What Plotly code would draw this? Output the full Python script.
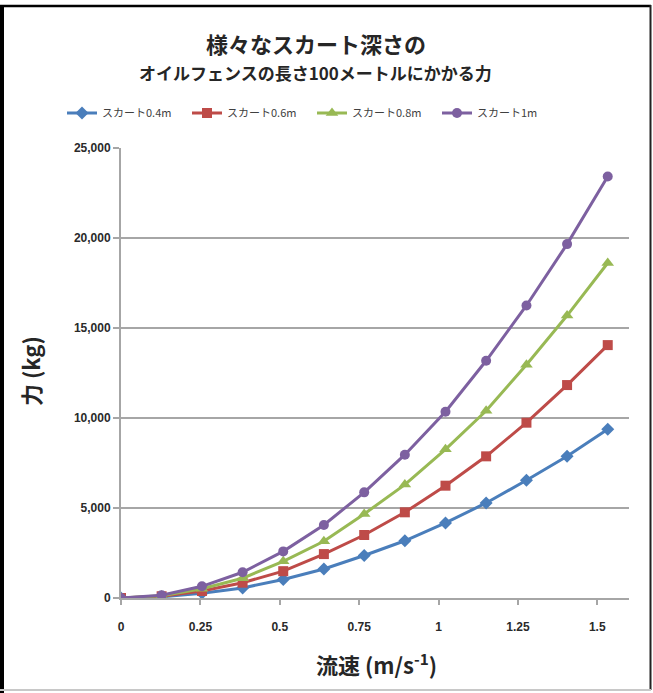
import plotly.graph_objects as go

# Data
speed = [0, 0.128, 0.255, 0.383, 0.511, 0.639, 0.766, 0.894, 1.022, 1.150, 1.277, 1.405, 1.533]
series_names = ["スカート0.4m", "スカート0.6m", "スカート0.8m", "スカート1m"]
skirt_04 = [0, 65, 270, 560, 1030, 1610, 2360, 3180, 4170, 5280, 6540, 7870, 9370]
skirt_06 = [0, 97, 390, 850, 1490, 2440, 3500, 4760, 6240, 7870, 9740, 11830, 14050]
skirt_08 = [0, 129, 517, 1100, 2040, 3150, 4670, 6300, 8260, 10400, 12960, 15690, 18610]
skirt_1m = [0, 150, 650, 1430, 2590, 4060, 5870, 7960, 10350, 13180, 16250, 19660, 23420]
y_ticks = [0, 5000, 10000, 15000, 20000, 25000]
y_ticklabels = ["0", "5,000", "10,000", "15,000", "20,000", "25,000"]
x_ticks = [0, 0.25, 0.5, 0.75, 1, 1.25, 1.5]
x_ticklabels = ["0", "0.25", "0.5", "0.75", "1", "1.25", "1.5"]

colors = ["#4a7ebb", "#be4b48", "#98b954", "#7d60a0"]
symbols = ["diamond", "square", "triangle-up", "circle"]
msizes = [10, 10, 11, 10]

W, H = 653, 693
L, R, T, B = 121, 24, 148, 95
PW, PH = W - L - R, H - T - B

def px(x):
    return (x - L) / PW

def py(y):
    return (H - B - y) / PH

fig = go.Figure()
for name, vals, c, s, ms in zip(series_names, [skirt_04, skirt_06, skirt_08, skirt_1m], colors, symbols, msizes):
    fig.add_trace(go.Scatter(
        x=speed, y=vals, name=name, mode="lines+markers",
        line=dict(color=c, width=3),
        marker=dict(symbol=s, size=ms, color=c),
    ))

font_cjk = "Noto Sans CJK JP, Liberation Sans, sans-serif"
tick_font = dict(family="Liberation Sans, Arial, sans-serif", size=12,
                 color="#2a2a2a", weight="bold")

fig.update_layout(
    width=W, height=H,
    margin=dict(l=L, r=R, t=T, b=B),
    paper_bgcolor="white", plot_bgcolor="white",
    showlegend=True,
    legend=dict(
        orientation="h", x=px(62), xanchor="left", y=py(113), yanchor="middle",
        font=dict(family=font_cjk, size=11, color="#404040"),
        entrywidth=80, tracegroupgap=0, bgcolor="rgba(0,0,0,0)",
    ),
    xaxis=dict(
        range=[0, 1.6], tickvals=x_ticks, ticktext=x_ticklabels,
        showgrid=False, zeroline=False,
        showline=True, linecolor="#a6a6a6", linewidth=2,
        ticks="outside", ticklen=5, tickcolor="#a6a6a6", tickwidth=1.5,
        ticklabelstandoff=12,
        tickfont=tick_font,
    ),
    yaxis=dict(
        range=[0, 25000], tickvals=y_ticks, ticktext=y_ticklabels,
        showgrid=True, gridcolor="#a6a6a6", gridwidth=1.5, zeroline=False,
        showline=True, linecolor="#a6a6a6", linewidth=2,
        ticks="outside", ticklen=6, tickcolor="#a6a6a6", tickwidth=1.5,
        tickfont=tick_font,
    ),
    annotations=[
        dict(text="<b>様々なスカート深さの</b>", x=px(316), y=py(43), xref="paper", yref="paper",
             xanchor="center", yanchor="middle",
             showarrow=False, font=dict(family=font_cjk, size=22, color="#262626")),
        dict(text="<b>オイルフェンスの長さ100メートルにかかる力</b>", x=px(315), y=py(72), xref="paper", yref="paper",
             xanchor="center", yanchor="middle",
             showarrow=False, font=dict(family=font_cjk, size=17, color="#262626")),
        dict(text="<b>力 (kg)</b>", x=px(30), y=py(371), xref="paper", yref="paper", textangle=-90,
             xanchor="center", yanchor="middle",
             showarrow=False, font=dict(family=font_cjk, size=22, color="#262626")),
        dict(text="<b>流速 (m/s<sup>-1</sup>)</b>", x=px(376), y=py(663), xref="paper", yref="paper",
             xanchor="center", yanchor="middle",
             showarrow=False, font=dict(family=font_cjk, size=22, color="#262626")),
    ],
    shapes=[
        dict(type="line", xref="paper", yref="paper", x0=px(0), x1=px(651), y0=py(6), y1=py(6),
             line=dict(color="black", width=2.5)),
        dict(type="line", xref="paper", yref="paper", x0=px(2), x1=px(2), y0=py(5), y1=py(693),
             line=dict(color="black", width=4)),
        dict(type="line", xref="paper", yref="paper", x0=px(650.5), x1=px(650.5), y0=py(5), y1=py(690),
             line=dict(color="#222222", width=2)),
        dict(type="line", xref="paper", yref="paper", x0=px(0), x1=px(651), y0=py(690), y1=py(690),
             line=dict(color="#c8c8c8", width=2)),
    ],
)

fig.write_html("out.html")
